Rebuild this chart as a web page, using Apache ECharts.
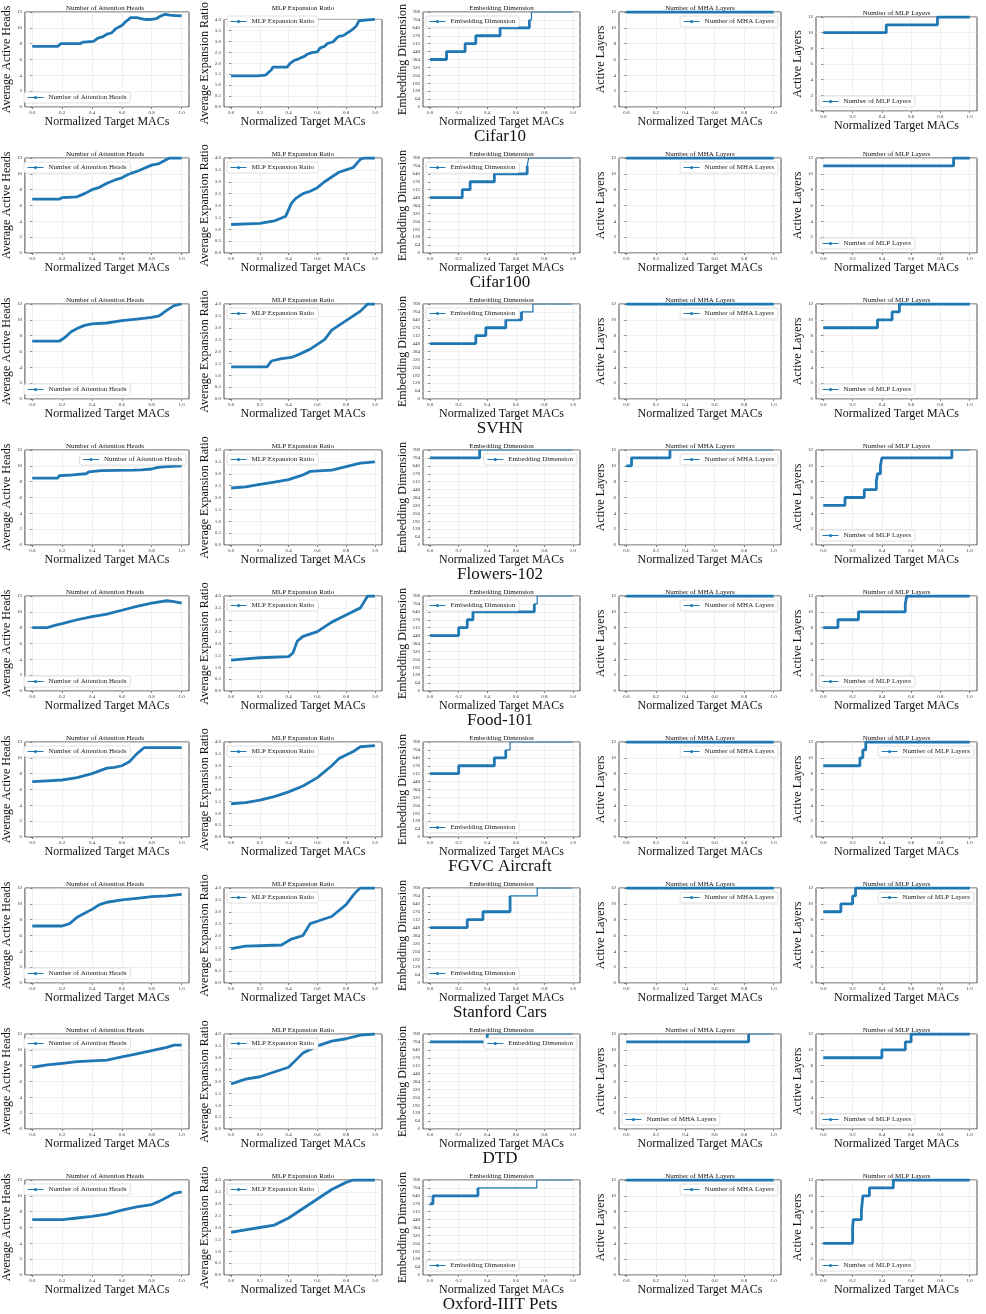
<!DOCTYPE html>
<html>
<head>
<meta charset="utf-8">
<script src="https://cdn.jsdelivr.net/npm/echarts@6/dist/echarts.min.js"></script>
<style>
  html, body { margin: 0; padding: 0; background: #fff; }
  #chart { width: 986px; height: 1314px; }
</style>
</head>
<body>
<div id="chart"></div>
<script>
const datasets = ['Cifar10', 'Cifar100', 'SVHN', 'Flowers-102', 'Food-101', 'FGVC Aircraft', 'Stanford Cars', 'DTD', 'Oxford-IIIT Pets'];
const panelTitles = ['Number of Attention Heads', 'MLP Expansion Ratio', 'Embedding Dimension', 'Number of MHA Layers', 'Number of MLP Layers'];
const yNames = ['Average Active Heads', 'Average Expansion Ratio', 'Embedding Dimension', 'Active Layers', 'Active Layers'];
const yMax = [12, 4, 768, 12, 12];
const yStep = [2, 0.5, 64, 2, 2];
const xTicks = [0, 0.2, 0.4, 0.6, 0.8, 1.0];

// average active heads, one list per dataset
const heads = [
  [[0,7.66],[0.17,7.66],[0.19,8.0],[0.32,8.0],[0.34,8.2],[0.41,8.3],[0.44,8.7],[0.47,8.85],[0.5,9.2],[0.53,9.35],[0.56,9.9],[0.6,10.3],[0.63,10.85],[0.66,11.3],[0.7,11.3],[0.73,11.15],[0.76,11.05],[0.79,11.05],[0.83,11.15],[0.86,11.5],[0.89,11.7],[0.92,11.6],[0.96,11.55],[1.0,11.5]],
  [[0,6.8],[0.18,6.8],[0.2,7.0],[0.3,7.1],[0.35,7.5],[0.4,8.0],[0.45,8.3],[0.5,8.8],[0.55,9.2],[0.6,9.5],[0.65,10.0],[0.7,10.3],[0.75,10.7],[0.8,11.1],[0.85,11.3],[0.9,11.8],[0.92,12.0],[1.0,12.0]],
  [[0,7.3],[0.18,7.3],[0.22,7.8],[0.26,8.5],[0.3,8.9],[0.35,9.3],[0.4,9.5],[0.5,9.6],[0.6,9.9],[0.7,10.1],[0.8,10.3],[0.85,10.5],[0.9,11.2],[0.95,11.8],[1.0,12.0]],
  [[0,8.45],[0.17,8.45],[0.18,8.75],[0.27,8.85],[0.36,9.0],[0.38,9.25],[0.46,9.4],[0.68,9.45],[0.73,9.5],[0.8,9.6],[0.84,9.8],[0.9,9.9],[1.0,10.0]],
  [[0,8.0],[0.1,8.0],[0.15,8.3],[0.2,8.5],[0.3,9.0],[0.4,9.4],[0.5,9.7],[0.6,10.2],[0.7,10.7],[0.8,11.1],[0.9,11.4],[0.95,11.3],[1.0,11.1]],
  [[0,7.0],[0.1,7.1],[0.2,7.2],[0.3,7.5],[0.4,8.0],[0.5,8.7],[0.55,8.8],[0.6,9.0],[0.65,9.5],[0.7,10.5],[0.75,11.3],[0.8,11.3],[1.0,11.3]],
  [[0,7.2],[0.2,7.2],[0.25,7.5],[0.3,8.3],[0.35,8.8],[0.4,9.3],[0.45,9.9],[0.5,10.2],[0.6,10.5],[0.7,10.7],[0.8,10.9],[0.9,11.0],[1.0,11.2]],
  [[0,7.8],[0.1,8.1],[0.2,8.3],[0.3,8.5],[0.4,8.6],[0.5,8.7],[0.6,9.1],[0.7,9.5],[0.8,9.9],[0.9,10.3],[0.95,10.6],[1.0,10.6]],
  [[0,7.0],[0.2,7.0],[0.3,7.2],[0.4,7.4],[0.5,7.7],[0.6,8.2],[0.7,8.6],[0.8,8.9],[0.85,9.3],[0.9,9.8],[0.95,10.3],[1.0,10.5]]
];

// average MLP expansion ratio
const ratio = [
  [[0,1.42],[0.18,1.42],[0.19,1.46],[0.24,1.46],[0.28,1.7],[0.29,1.82],[0.39,1.82],[0.41,1.99],[0.44,2.13],[0.47,2.2],[0.51,2.31],[0.53,2.41],[0.56,2.48],[0.6,2.52],[0.62,2.7],[0.65,2.77],[0.67,2.9],[0.71,2.98],[0.73,3.12],[0.75,3.23],[0.78,3.26],[0.82,3.43],[0.85,3.57],[0.87,3.69],[0.89,3.93],[0.93,3.97],[1.0,4.0]],
  [[0,1.2],[0.2,1.25],[0.3,1.35],[0.38,1.55],[0.42,2.1],[0.45,2.3],[0.5,2.5],[0.55,2.6],[0.6,2.75],[0.65,3.0],[0.7,3.2],[0.75,3.4],[0.8,3.5],[0.85,3.6],[0.9,3.95],[0.93,4.0],[1.0,4.0]],
  [[0,1.35],[0.25,1.35],[0.28,1.6],[0.35,1.7],[0.42,1.75],[0.48,1.9],[0.55,2.1],[0.6,2.3],[0.65,2.5],[0.7,2.9],[0.75,3.1],[0.8,3.3],[0.85,3.5],[0.9,3.7],[0.95,4.0],[1.0,4.0]],
  [[0,2.4],[0.1,2.45],[0.2,2.55],[0.3,2.65],[0.4,2.75],[0.5,2.95],[0.55,3.1],[0.7,3.15],[0.8,3.3],[0.9,3.45],[1.0,3.5]],
  [[0,1.3],[0.1,1.35],[0.2,1.4],[0.4,1.45],[0.43,1.6],[0.46,2.1],[0.5,2.3],[0.6,2.5],[0.7,2.9],[0.8,3.2],[0.9,3.5],[0.95,4.0],[1.0,4.0]],
  [[0,1.4],[0.1,1.45],[0.2,1.55],[0.3,1.7],[0.4,1.9],[0.5,2.15],[0.6,2.5],[0.7,3.0],[0.75,3.3],[0.8,3.45],[0.85,3.6],[0.9,3.8],[1.0,3.85]],
  [[0,1.45],[0.1,1.55],[0.35,1.6],[0.42,1.85],[0.5,2.0],[0.55,2.5],[0.6,2.6],[0.7,2.8],[0.8,3.3],[0.85,3.7],[0.88,3.9],[0.9,4.0],[1.0,4.0]],
  [[0,1.9],[0.1,2.1],[0.2,2.2],[0.3,2.4],[0.4,2.6],[0.45,2.9],[0.5,3.2],[0.6,3.5],[0.7,3.7],[0.8,3.8],[0.9,3.95],[1.0,4.0]],
  [[0,1.8],[0.1,1.9],[0.2,2.0],[0.3,2.1],[0.4,2.4],[0.5,2.8],[0.6,3.2],[0.7,3.6],[0.8,3.9],[0.85,4.0],[1.0,4.0]]
];

// embedding dimension, [x where value starts, value]
const embed = [
  [[0,384],[0.115,448],[0.245,512],[0.32,576],[0.49,640],[0.695,704],[0.71,768],[1.0,768]],
  [[0,448],[0.225,512],[0.28,576],[0.45,640],[0.68,704],[0.69,768],[1.0,768]],
  [[0,448],[0.32,512],[0.39,576],[0.53,640],[0.64,704],[0.72,768],[1.0,768]],
  [[0,704],[0.347,768],[1.0,768]],
  [[0,448],[0.2,512],[0.26,576],[0.3,640],[0.73,704],[0.75,768],[1.0,768]],
  [[0,512],[0.2,576],[0.45,640],[0.53,704],[0.56,768],[1.0,768]],
  [[0,448],[0.26,512],[0.37,576],[0.56,704],[0.75,768],[1.0,768]],
  [[0,704],[0.4,768],[1.0,768]],
  [[0,576],[0.02,640],[0.335,704],[0.747,768],[1.0,768]]
];
const embedThick = [0.70, 0.685, 0.70, 0.347, 0.74, 0.53, 0.74, 0.4, 0.335];

// number of MHA layers
const mha = [
  [[0,12],[1.0,12]], [[0,12],[1.0,12]], [[0,12],[1.0,12]],
  [[0,10],[0.035,11],[0.296,12],[1.0,12]],
  [[0,12],[1.0,12]], [[0,12],[1.0,12]], [[0,12],[1.0,12]],
  [[0,11],[0.83,12],[1.0,12]],
  [[0,12],[1.0,12]]
];
const mhaThick = [1, 1, 1, 0.296, 1, 1, 1, 0.83, 1];

// number of MLP layers
const mlp = [
  [[0,10],[0.43,11],[0.78,12],[1.0,12]],
  [[0,11],[0.89,12],[1.0,12]],
  [[0,9],[0.37,10],[0.47,11],[0.52,12],[1.0,12]],
  [[0,5],[0.148,6],[0.28,7],[0.362,8],[0.37,9],[0.39,10],[0.4,11],[0.878,12],[1.0,12]],
  [[0,8],[0.1,9],[0.24,10],[0.56,11],[0.57,12],[1.0,12]],
  [[0,9],[0.25,10],[0.27,11],[0.29,12],[1.0,12]],
  [[0,9],[0.12,10],[0.2,11],[0.22,12],[1.0,12]],
  [[0,9],[0.4,10],[0.56,11],[0.6,12],[1.0,12]],
  [[0,4],[0.2,6],[0.205,7],[0.26,8],[0.27,10],[0.315,11],[0.478,12],[1.0,12]]
];
const mlpThick = [1, 1, 1, 0.878, 1, 1, 1, 1, 1];

// legend corner per column, per row
const legendPos = [
  ['ll','ul','ll','ur','ll','ul','ll','ul','ul'],
  ['ul','ul','ul','ul','ul','ul','ul','ul','ul'],
  ['ul','ul','ul','ur','ul','ll','ll','ur','ll'],
  ['ur','ur','ur','ur','ur','ur','ur','ll','ur'],
  ['ll','ll','ll','ll','ll','ur','ur','ll','ll']
];

const colLeft = [21, 224, 423, 619, 816];
const colRight = [189, 382, 580, 781, 977];
const yNameGap = [7, 13, 13, 11, 10];
const FONT = 'Liberation Serif';
const BLUE = '#1f77b4';

const chart = echarts.init(document.getElementById('chart'));
const grids = [], xAxes = [], yAxes = [], series = [], legends = [], titles = [];

for (let r = 0; r < datasets.length; r++) {
  const columns = [
    { pts: heads[r], step: false, thick: 1 },
    { pts: ratio[r], step: false, thick: 1 },
    { pts: embed[r], step: 'end', thick: embedThick[r] },
    { pts: mha[r], step: 'end', thick: mhaThick[r] },
    { pts: mlp[r], step: 'end', thick: mlpThick[r] }
  ];
  for (let c = 0; c < 5; c++) {
    const k = grids.length;
    let top = 12 + 146 * r, h = 95;
    if (r === 0 && c === 4) { top += 5; h = 94; }
    const L = colLeft[c], R = colRight[c];
    grids.push({ left: L, top: top, width: R - L, height: h, show: true, borderColor: '#222', borderWidth: 0.8, backgroundColor: 'transparent' });

    xAxes.push({
      gridIndex: k, type: 'value', min: -0.05, max: 1.05,
      name: 'Normalized Target MACs', nameLocation: 'middle', nameGap: 8,
      nameTextStyle: { fontFamily: FONT, fontSize: 12, color: '#111' },
      axisLine: { show: false },
      axisTick: { show: true, length: 2, customValues: xTicks, lineStyle: { color: '#333', width: 0.6 } },
      axisLabel: { customValues: xTicks, fontSize: 5, margin: 3, color: '#333', fontFamily: FONT, formatter: v => v.toFixed(1) },
      splitLine: { show: true, lineStyle: { color: '#e6e6e6', width: 0.6 } }
    });
    yAxes.push({
      gridIndex: k, type: 'value', min: 0, max: yMax[c], interval: yStep[c],
      name: yNames[c], nameLocation: 'middle', nameGap: yNameGap[c],
      nameTextStyle: { fontFamily: FONT, fontSize: 12, color: '#111' },
      axisLine: { show: false },
      axisTick: { show: true, length: 2, lineStyle: { color: '#333', width: 0.6 } },
      axisLabel: { fontSize: 5, margin: 3, color: '#333', fontFamily: FONT, formatter: v => (c === 1 ? v.toFixed(1) : String(v)) },
      splitLine: { show: true, lineStyle: { color: '#e6e6e6', width: 0.6 } }
    });

    const col = columns[c];
    series.push({
      name: panelTitles[c], type: 'line', xAxisIndex: k, yAxisIndex: k,
      data: col.pts, step: col.step, symbol: 'circle', symbolSize: 4, showSymbol: false,
      lineStyle: { color: BLUE, width: 1.2 }, itemStyle: { color: BLUE }, z: 3
    });
    const dense = col.pts.filter(p => p[0] <= col.thick);
    if (dense.length > 1) {
      series.push({
        name: 'dense-' + k, type: 'line', xAxisIndex: k, yAxisIndex: k,
        data: dense, step: col.step, showSymbol: false, symbol: 'none',
        lineStyle: { color: BLUE, width: 2.8 }, z: 3
      });
    }

    const pos = legendPos[c][r];
    const lg = {
      data: [panelTitles[c]], orient: 'horizontal', selectedMode: false,
      backgroundColor: '#fff', borderColor: '#cccccc', borderWidth: 0.6, borderRadius: 2,
      padding: [2, 4, 2, 3], itemWidth: 16, itemHeight: 4, itemGap: 0,
      lineStyle: { width: 1 },
      textStyle: { fontFamily: FONT, fontSize: 7, color: '#222' }
    };
    if (pos === 'ur') { lg.right = 986 - R + 3; lg.top = top + 4; }
    else if (pos === 'ul') { lg.left = L + 3; lg.top = top + 4; }
    else { lg.left = L + 3; lg.bottom = 1314 - (top + h) + 4; }
    legends.push(lg);

    titles.push({
      text: panelTitles[c], left: (L + R) / 2, top: top - 7, textAlign: 'center', padding: 0,
      textStyle: { fontFamily: FONT, fontSize: 7, fontWeight: 'normal', color: '#111' }
    });
  }
  titles.push({
    text: datasets[r], left: 500, top: 12 + 146 * r + 116, textAlign: 'center', padding: 0,
    textStyle: { fontFamily: FONT, fontSize: 17, fontWeight: 'normal', color: '#111' }
  });
}

chart.setOption({
  animation: false,
  backgroundColor: '#fff',
  title: titles,
  grid: grids,
  xAxis: xAxes,
  yAxis: yAxes,
  legend: legends,
  series: series
});
</script>
</body>
</html>
